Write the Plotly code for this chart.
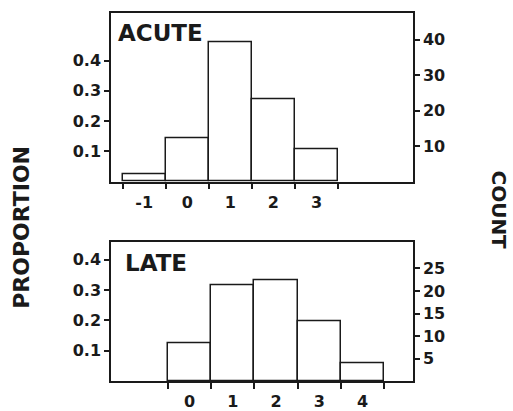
import plotly.graph_objects as go

# Data
acute_bins = [-1, 0, 1, 2, 3]
acute_prop = [0.026, 0.143, 0.460, 0.272, 0.107]
late_bins = [0, 1, 2, 3, 4]
late_prop = [0.125, 0.316, 0.331, 0.196, 0.060]
prop_ticks = [0.1, 0.2, 0.3, 0.4]
prop_ticktext = ["0.1", "0.2", "0.3", "0.4"]
acute_count_ticks = [10, 20, 30, 40]
late_count_ticks = [5, 10, 15, 20, 25]

W, H = 513, 411
INK = "#1a1a1a"
FONT = "DejaVu Sans"

def px(xp):
    return xp / W

def py(yp):
    return 1 - yp / H

xdom = [px(111), px(413)]
top_dom = [py(183), py(13.3)]
bot_dom = [py(384), py(244)]

fig = go.Figure()

bar_style = dict(marker=dict(color="white", line=dict(color=INK, width=1.5)), width=1.0,
                 showlegend=False, hoverinfo="skip")
fig.add_trace(go.Bar(x=acute_bins, y=acute_prop, xaxis="x", yaxis="y", **bar_style))
fig.add_trace(go.Bar(x=late_bins, y=late_prop, xaxis="x2", yaxis="y2", **bar_style))
# invisible traces to activate the count axes
fig.add_trace(go.Scatter(x=[acute_bins[0]], y=[None], xaxis="x", yaxis="y3", showlegend=False, hoverinfo="skip"))
fig.add_trace(go.Scatter(x=[late_bins[0]], y=[None], xaxis="x2", yaxis="y4", showlegend=False, hoverinfo="skip"))

tickfont = dict(family=FONT, size=16, color=INK, weight="bold")
axis_common = dict(showline=True, linecolor=INK, linewidth=1.5, showgrid=False, zeroline=False,
                   tickfont=tickfont, tickcolor=INK, tickwidth=1.5)

def edges(bins):
    return [b - 0.5 for b in bins] + [bins[-1] + 0.5]

fig.update_layout(
    width=W, height=H,
    margin=dict(l=0, r=0, t=0, b=0),
    paper_bgcolor="white", plot_bgcolor="white",
    bargap=0,
    xaxis=dict(domain=xdom, anchor="y", range=[-1.77, 5.24], tickvals=acute_bins,
               ticktext=[str(b) for b in acute_bins], ticks="", mirror=True, ticklabelstandoff=5,
               minor=dict(tickvals=edges(acute_bins), ticks="outside", ticklen=6, tickcolor=INK, tickwidth=1.5),
               **axis_common),
    yaxis=dict(domain=top_dom, anchor="x", range=[0, 0.5564], tickvals=prop_ticks,
               ticktext=prop_ticktext, ticks="outside", ticklen=5, mirror=True, **axis_common),
    yaxis3=dict(overlaying="y", anchor="x", side="right", range=[0, 47.4],
                tickvals=acute_count_ticks, ticks="outside", ticklen=5, **axis_common),
    xaxis2=dict(domain=xdom, anchor="y2", range=[-1.82, 5.17], tickvals=late_bins,
                ticktext=[str(b) for b in late_bins], ticks="", mirror=True, ticklabelstandoff=5,
                minor=dict(tickvals=edges(late_bins), ticks="outside", ticklen=6, tickcolor=INK, tickwidth=1.5),
                **axis_common),
    yaxis2=dict(domain=bot_dom, anchor="x2", range=[0, 0.4575], tickvals=prop_ticks,
                ticktext=prop_ticktext, ticks="outside", ticklen=5, mirror=True, **axis_common),
    yaxis4=dict(overlaying="y2", anchor="x2", side="right", range=[0, 30.8],
                tickvals=late_count_ticks, ticks="outside", ticklen=5, **axis_common),
)

ann_font = dict(family=FONT, size=23, color=INK, weight="bold")
fig.add_annotation(text="ACUTE", xref="paper", yref="paper", x=px(116), y=py(33), xanchor="left", yanchor="middle",
                   showarrow=False, font=ann_font)
fig.add_annotation(text="LATE", xref="paper", yref="paper", x=px(123), y=py(264.5), xanchor="left", yanchor="middle",
                   showarrow=False, font=ann_font)
fig.add_annotation(text="PROPORTION", xref="paper", yref="paper", x=px(21.5), y=py(229), xanchor="center",
                   yanchor="middle", textangle=-90, showarrow=False,
                   font=dict(family=FONT, size=22, color=INK, weight="bold"))
fig.add_annotation(text="COUNT", xref="paper", yref="paper", x=px(499), y=py(211), xanchor="center",
                   yanchor="middle", textangle=90, showarrow=False,
                   font=dict(family=FONT, size=20, color=INK, weight="bold"))

fig.write_html("out.html")
